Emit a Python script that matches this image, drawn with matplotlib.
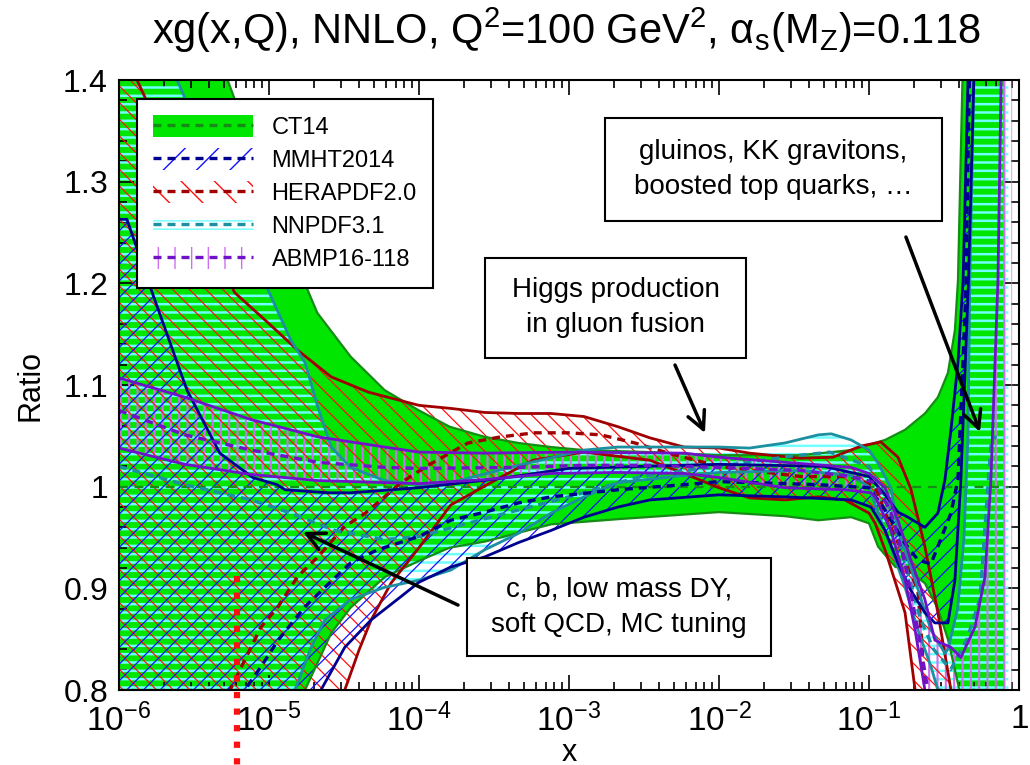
import numpy as np
import matplotlib.pyplot as plt
from matplotlib.patches import Patch, Rectangle
from matplotlib.lines import Line2D
from matplotlib.ticker import MultipleLocator, LogLocator, NullFormatter

plt.rcParams['font.family'] = 'Liberation Sans'
plt.rcParams['mathtext.fontset'] = 'custom'
plt.rcParams['mathtext.rm'] = 'Liberation Sans'
plt.rcParams['mathtext.it'] = 'Liberation Sans:italic'
plt.rcParams['hatch.linewidth'] = 1.0

# ---------------- data (ratio to CT14 central) ----------------
# CT14
ct_up_x = [1e-6, 2.5e-6, 5.3e-6, 1.0e-5, 1.7e-5, 2.1e-5, 3.5e-5, 5.9e-5, 1.0e-4, 1.6e-4,
           2.75e-4, 4.6e-4, 7.6e-4, 1.26e-3, 3.5e-3, 1.0e-2, 3.5e-2, 7.6e-2, 0.128, 0.174,
           0.236, 0.288, 0.336, 0.374, 0.392, 0.42, 0.45, 0.81]
ct_up_r = [1.75, 1.55, 1.40, 1.29, 1.203, 1.171, 1.128, 1.095, 1.075, 1.059,
           1.049, 1.043, 1.039, 1.036, 1.034, 1.031, 1.031, 1.036, 1.046, 1.056,
           1.072, 1.088, 1.112, 1.154, 1.203, 1.40, 1.60, 1.60]
ct_lo_x = [1e-6, 1.0e-5, 1.74e-5, 2.6e-5, 3.5e-5, 5.9e-5, 1.0e-4, 1.6e-4, 2.75e-4, 7.6e-4,
           2.1e-3, 1.0e-2, 2.75e-2, 4.6e-2, 7.6e-2, 0.1, 0.115, 0.15, 0.174, 0.236,
           0.288, 0.336, 0.374, 0.40, 0.45, 0.81]
ct_lo_r = [0.55, 0.70, 0.80, 0.856, 0.881, 0.911, 0.927, 0.940, 0.946, 0.963,
           0.968, 0.975, 0.971, 0.967, 0.970, 0.964, 0.941, 0.921, 0.92, 0.905,
           0.88, 0.85, 0.82, 0.80, 0.70, 0.70]
ct_c_x = [1e-6, 0.85]
ct_c_r = [1.0, 1.0]

# HERAPDF2.0
he_up_x = [1e-6, 1.32e-6, 5.9e-6, 9.9e-6, 1.56e-5, 2.6e-5, 4.6e-5, 1.0e-4, 1.63e-4, 2.75e-4,
           4.6e-4, 7.6e-4, 1.26e-3, 2.12e-3, 3.47e-3, 5.85e-3, 1.0e-2, 1.6e-2, 3.5e-2, 5.75e-2,
           8.85e-2, 0.12, 0.156, 0.19, 0.236, 0.288, 0.352, 0.40]
he_up_r = [1.60, 1.40, 1.191, 1.161, 1.134, 1.108, 1.093, 1.080, 1.077, 1.073,
           1.072, 1.072, 1.069, 1.059, 1.048, 1.039, 1.038, 1.033, 1.028, 1.029,
           1.040, 1.044, 1.029, 0.998, 0.941, 0.876, 0.80, 0.70]
he_lo_x = [1e-6, 2.0e-5, 3.2e-5, 4.0e-5, 4.8e-5, 6.5e-5, 1.0e-4, 1.63e-4, 3.47e-4, 5.75e-4,
           1.26e-3, 3.47e-3, 5.85e-3, 1.0e-2, 1.6e-2, 2.75e-2, 4.6e-2, 6.9e-2, 0.1, 0.11,
           0.13, 0.174, 0.203, 0.23]
he_lo_r = [0.30, 0.60, 0.80, 0.84, 0.869, 0.905, 0.94, 0.982, 1.009, 1.026,
           1.034, 1.026, 1.013, 0.999, 0.989, 0.987, 0.990, 0.987, 0.974, 0.964,
           0.935, 0.876, 0.80, 0.70]
he_c_x = [1e-6, 5.5e-6, 8.85e-6, 1.15e-5, 1.56e-5, 2.12e-5, 3.2e-5, 4.4e-5, 7.6e-5, 1.15e-4,
          2.12e-4, 3.5e-4, 5.9e-4, 9.9e-4, 1.63e-3, 2.75e-3, 4.6e-3, 1.0e-2, 3.5e-2, 7.6e-2,
          0.11, 0.14, 0.174, 0.19, 0.212, 0.222, 0.236, 0.26]
he_c_r = [0.60, 0.80, 0.862, 0.882, 0.912, 0.931, 0.961, 0.974, 1.004, 1.021,
          1.043, 1.049, 1.053, 1.053, 1.051, 1.043, 1.033, 1.020, 1.010, 1.010,
          1.0, 0.96, 0.93, 0.915, 0.898, 0.859, 0.80, 0.70]

# MMHT2014
mm_up_x = [1e-6, 1.13e-6, 1.61e-6, 2.84e-6, 4.7e-6, 7.8e-6, 1.13e-5, 1.28e-5, 2.5e-5, 3.5e-5,
           1.0e-4, 3.47e-4, 1.0e-3, 1.0e-2, 5.0e-2, 0.1, 0.128, 0.156, 0.182, 0.236,
           0.288, 0.321, 0.352, 0.392, 0.424, 0.457, 0.52]
mm_up_r = [1.263, 1.263, 1.197, 1.095, 1.033, 1.009, 1.002, 0.997, 0.994, 0.994,
           0.999, 1.008, 1.018, 1.022, 1.020, 1.010, 0.992, 0.975, 0.970, 0.960,
           0.974, 1.007, 1.056, 1.122, 1.203, 1.40, 1.70]
mm_lo_x = [1e-6, 1.5e-5, 2.22e-5, 3.2e-5, 4.8e-5, 7.6e-5, 1.0e-4, 1.63e-4, 2.75e-4, 4.6e-4,
           7.6e-4, 1.26e-3, 2.12e-3, 3.47e-3, 1.0e-2, 2.75e-2, 7.6e-2, 0.103, 0.128, 0.156,
           0.19, 0.236, 0.275, 0.336, 0.374, 0.41, 0.46, 0.50, 0.52]
mm_lo_r = [0.40, 0.70, 0.80, 0.842, 0.869, 0.892, 0.906, 0.921, 0.931, 0.945,
           0.957, 0.970, 0.980, 0.987, 0.992, 0.990, 0.987, 0.980, 0.957, 0.925,
           0.898, 0.876, 0.866, 0.866, 0.908, 1.007, 1.20, 1.40, 1.70]
mm_c_x = [1e-6, 5.9e-6, 6.9e-6, 8.85e-6, 1.15e-5, 1.74e-5, 2.36e-5, 3.5e-5, 5.3e-5, 1.0e-4,
          1.63e-4, 2.75e-4, 4.6e-4, 7.6e-4, 2.12e-3, 5.85e-3, 1.0e-2, 4.6e-2, 0.1, 0.128,
          0.174, 0.212, 0.259, 0.352, 0.392, 0.437, 0.443, 0.48]
mm_c_r = [0.50, 0.75, 0.80, 0.823, 0.849, 0.882, 0.901, 0.925, 0.938, 0.951,
          0.967, 0.975, 0.984, 0.990, 0.997, 1.002, 1.005, 1.002, 0.999, 0.977,
          0.944, 0.928, 0.924, 0.974, 1.007, 1.171, 1.203, 1.50]

# NNPDF3.1
nn_up_x = [1e-6, 2.0e-6, 2.44e-6, 4.8e-6, 9.9e-6, 1.4e-5, 1.74e-5, 2.12e-5, 2.6e-5, 3.5e-5,
           5.9e-5, 1.0e-4, 1.63e-4, 4.6e-4, 1.26e-3, 2.12e-3, 1.0e-2, 1.6e-2, 2.75e-2, 4.6e-2,
           5.6e-2, 7.6e-2, 0.1, 0.115, 0.14, 0.156, 0.203, 0.259, 0.321, 0.336, 0.39, 0.43,
           0.457, 0.47, 0.50, 0.55, 0.85]
nn_up_r = [1.80, 1.50, 1.40, 1.30, 1.193, 1.144, 1.122, 1.078, 1.039, 1.019,
           1.006, 1.002, 1.004, 1.021, 1.036, 1.039, 1.039, 1.038, 1.043, 1.051,
           1.052, 1.046, 1.036, 1.023, 0.999, 0.957, 0.908, 0.859, 0.836, 0.84, 0.88, 0.95,
           1.05, 1.20, 1.40, 1.70, 1.70]
nn_lo_x = [1e-6, 1.49e-5, 1.91e-5, 2.36e-5, 3.5e-5, 5.9e-5, 1.0e-4, 1.63e-4, 2.75e-4, 4.6e-4,
           7.6e-4, 1.26e-3, 2.12e-3, 5.85e-3, 1.0e-2, 3.5e-2, 7.6e-2, 0.1, 0.115, 0.14,
           0.174, 0.212, 0.259, 0.288, 0.33, 0.85]
nn_lo_r = [0.40, 0.80, 0.842, 0.869, 0.889, 0.901, 0.908, 0.918, 0.938, 0.954,
           0.974, 0.990, 1.004, 1.011, 1.014, 1.016, 1.011, 1.000, 0.974, 0.941,
           0.901, 0.859, 0.823, 0.80, 0.70, 0.70]
nn_c_x = [1e-6, 2.75e-6, 7.6e-6, 1.4e-5, 2.75e-5, 5.9e-5, 1.0e-4, 3.0e-4, 1.0e-3, 3.0e-3,
          1.0e-2, 3.0e-2, 5.5e-2, 0.1, 0.13, 0.17, 0.22, 0.27, 0.35, 0.45, 0.55, 0.62, 0.65, 0.70]
nn_c_r = [1.020, 1.002, 0.987, 0.974, 0.957, 0.948, 0.951, 0.970, 0.990, 1.010,
          1.020, 1.030, 1.034, 1.020, 0.990, 0.930, 0.870, 0.840, 0.820, 0.850, 0.890, 1.0, 1.04, 1.05]

# ABMP16-118
ab_up_x = [1e-6, 2.75e-6, 7.6e-6, 2.12e-5, 5.9e-5, 1.0e-4, 2.75e-4, 1.0e-3, 5.85e-3, 1.0e-2,
           2.75e-2, 7.6e-2, 0.1, 0.128, 0.156, 0.19, 0.236, 0.275, 0.352, 0.41,
           0.509, 0.593, 0.65, 0.724, 0.76, 0.80, 0.90]
ab_up_r = [1.107, 1.088, 1.066, 1.049, 1.039, 1.034, 1.033, 1.034, 1.033, 1.029,
           1.024, 1.019, 1.013, 0.999, 0.967, 0.928, 0.889, 0.849, 0.842, 0.832,
           0.862, 0.911, 1.007, 1.203, 1.40, 1.60, 1.60]
ab_lo_x = [1e-6, 2.75e-6, 7.6e-6, 2.12e-5, 1.0e-4, 2.75e-4, 7.6e-4, 2.12e-3, 5.85e-3, 1.0e-2,
           2.75e-2, 6.9e-2, 0.103, 0.11, 0.14, 0.174, 0.203, 0.236, 0.27, 0.90]
ab_lo_r = [1.038, 1.022, 1.012, 1.006, 1.003, 1.007, 1.013, 1.014, 1.013, 1.009,
           0.999, 0.997, 0.994, 0.990, 0.957, 0.908, 0.859, 0.80, 0.70, 0.70]
ab_c_x = [1e-6, 2.75e-6, 7.6e-6, 2.12e-5, 5.9e-5, 1.0e-4, 4.6e-4, 1.26e-3, 3.47e-3, 1.0e-2,
          3.5e-2, 7.6e-2, 0.11, 0.14, 0.174, 0.212, 0.247, 0.30]
ab_c_r = [1.075, 1.051, 1.036, 1.024, 1.019, 1.018, 1.019, 1.021, 1.021, 1.019,
          1.016, 1.010, 1.004, 0.975, 0.925, 0.859, 0.80, 0.70]

# red dotted marker line
mark_x = [6.1e-6, 6.1e-6]
mark_r = [0.912, 0.726]

xtick_vals = [1e-6, 1e-5, 1e-4, 1e-3, 1e-2, 1e-1, 1]
xtick_labels = ['$10^{-6}$', '$10^{-5}$', '$10^{-4}$', '$10^{-3}$', '$10^{-2}$', '$10^{-1}$',
                r'$\mathregular{1}$']
ytick_vals = [0.8, 0.9, 1.0, 1.1, 1.2, 1.3, 1.4]
ytick_labels = [r'$\mathregular{%s}$' % s for s in ['0.8', '0.9', '1', '1.1', '1.2', '1.3', '1.4']]

# colours
CT_FILL, CT_LINE = '#00E600', '#168C16'
MM_LINE, MM_HATCH = '#000090', '#1010FF'
HE_LINE, HE_HATCH = '#A00000', '#FF1010'
NN_LINE, NN_HATCH = '#1C8FA0', '#70FFFF'
AB_LINE, AB_HATCH = '#7012C8', '#D070F0'
DASH = (0, (2.4, 1.8))

fig = plt.figure(figsize=(10.3, 7.65), dpi=100)
ax = fig.add_axes([0.1155, 0.098, 0.8738, 0.7974])
ax.set_xscale('log')


def band(xu, ru, xl, rl, **kw):
    xs = np.r_[xu, np.asarray(xl)[::-1]]
    ys = np.r_[ru, np.asarray(rl)[::-1]]
    polys = ax.fill(xs, ys, **kw)
    return polys[0]


def hatched(xu, ru, xl, rl, color, hatch, hlw):
    p = band(xu, ru, xl, rl, facecolor='none', edgecolor=color, lw=0, hatch=hatch, zorder=2)
    if hasattr(p, 'set_hatch_linewidth'):
        p.set_hatch_linewidth(hlw)
    return p


# CT14 green band
band(ct_up_x, ct_up_r, ct_lo_x, ct_lo_r, facecolor=CT_FILL, edgecolor='none', lw=0, zorder=1)
# hatched bands
hatched(nn_up_x, nn_up_r, nn_lo_x, nn_lo_r, NN_HATCH, '--', 1.8)
hatched(ab_up_x, ab_up_r, ab_lo_x, ab_lo_r, AB_HATCH, '||', 1.5)
hatched(he_up_x, he_up_r, he_lo_x, he_lo_r, HE_HATCH, '\\\\', 0.9)
hatched(mm_up_x, mm_up_r, mm_lo_x, mm_lo_r, MM_HATCH, '//', 0.9)

# band edges and central values
ax.plot(ct_up_x, ct_up_r, color=CT_LINE, lw=1.6, zorder=3)
ax.plot(ct_lo_x, ct_lo_r, color=CT_LINE, lw=1.6, zorder=3)
ax.plot(ct_c_x, ct_c_r, color=CT_LINE, lw=1.6, ls=(0, (4, 3)), zorder=3)

for xu, ru, xl, rl, xc, rc, col in [
        (he_up_x, he_up_r, he_lo_x, he_lo_r, he_c_x, he_c_r, HE_LINE),
        (nn_up_x, nn_up_r, nn_lo_x, nn_lo_r, nn_c_x, nn_c_r, NN_LINE),
        (mm_up_x, mm_up_r, mm_lo_x, mm_lo_r, mm_c_x, mm_c_r, MM_LINE),
        (ab_up_x, ab_up_r, ab_lo_x, ab_lo_r, ab_c_x, ab_c_r, AB_LINE)]:
    ax.plot(xu, ru, color=col, lw=2.0, zorder=4)
    ax.plot(xl, rl, color=col, lw=2.0, zorder=4)
    ax.plot(xc, rc, color=col, lw=2.4, ls=DASH, zorder=4)

ax.plot(mark_x, mark_r, color='#FF1010', lw=4.5, ls=':', clip_on=False, zorder=8)

# axes
ax.set_xlim(1e-6, 1)
ax.set_ylim(0.8, 1.4)
ax.set_xticks(xtick_vals, xtick_labels)
ax.set_yticks(ytick_vals, ytick_labels)
ax.xaxis.set_minor_locator(LogLocator(base=10, subs=np.arange(2, 10), numticks=20))
ax.xaxis.set_minor_formatter(NullFormatter())
ax.yaxis.set_minor_locator(MultipleLocator(0.02))
ax.tick_params(which='both', direction='in', top=True, right=True, width=1.2)
ax.tick_params(which='major', length=11)
ax.tick_params(which='minor', length=5.5)
ax.tick_params(axis='x', pad=10, labelsize=24)
ax.tick_params(axis='y', pad=8, labelsize=23)
for s in ax.spines.values():
    s.set_linewidth(1.5)
    s.set_zorder(6)

fig.text(0.5524, 0.005, r'$\mathregular{x}$', ha='center', va='baseline', fontsize=22)
ax.set_ylabel('Ratio', fontsize=22, labelpad=12)
fig.text(0.55, 0.96, r'xg(x,Q), NNLO, Q$^{2}$=100 GeV$^{2}$, α$_{\mathregular{s}}$(M$_{\mathregular{Z}}$)=0.118',
         ha='center', va='center', fontsize=30)

# legend
hand = [
    (Patch(facecolor=CT_FILL, edgecolor='none'), Line2D([], [], color=CT_LINE, lw=2.4, ls=DASH)),
    (Patch(facecolor='white', edgecolor=MM_HATCH, hatch='/', lw=0), Line2D([], [], color=MM_LINE, lw=2.4, ls=DASH)),
    (Patch(facecolor='white', edgecolor=HE_HATCH, hatch='\\', lw=0), Line2D([], [], color=HE_LINE, lw=2.4, ls=DASH)),
    (Patch(facecolor='white', edgecolor=NN_HATCH, hatch='--', lw=0), Line2D([], [], color=NN_LINE, lw=2.4, ls=DASH)),
    (Patch(facecolor='white', edgecolor=AB_HATCH, hatch='|', lw=0), Line2D([], [], color=AB_LINE, lw=2.4, ls=DASH)),
]
labels = ['CT14', 'MMHT2014', 'HERAPDF2.0', 'NNPDF3.1', 'ABMP16-118']
leg = ax.legend(hand, labels, loc='upper left', bbox_to_anchor=(0.02, 0.969), fontsize=17,
                handlelength=4.2, handleheight=1.05, handletextpad=0.8, labelspacing=0.38,
                borderpad=0.7, borderaxespad=0, fancybox=False, framealpha=1, edgecolor='black')
leg.get_frame().set_linewidth(1.5)
leg.set_zorder(10)

# annotation boxes
boxes = [
    ((0.540, 0.769, 0.374, 0.169), 'gluinos, KK gravitons,\nboosted top quarks, …', (0.8744, 0.7426), (0.9567, 0.4230)),
    ((0.4067, 0.5443, 0.290, 0.164), 'Higgs production\nin gluon fusion', (0.6178, 0.5328), (0.6511, 0.4213)),
    ((0.3867, 0.0557, 0.3378, 0.1607), 'c, b, low mass DY,\nsoft QCD, MC tuning', (0.3767, 0.1393), (0.2044, 0.2590)),
]
for (bx, by, bw, bh), txt, tail, tip in boxes:
    ax.add_patch(Rectangle((bx, by), bw, bh, transform=ax.transAxes, facecolor='white',
                           edgecolor='black', lw=1.5, zorder=9))
    ax.text(bx + bw / 2, by + bh / 2, txt, transform=ax.transAxes, ha='center', va='center',
            fontsize=20, linespacing=1.45, zorder=10)
    ax.annotate('', xy=tip, xycoords='axes fraction', xytext=tail, textcoords='axes fraction',
                arrowprops=dict(arrowstyle='->', lw=2.5, color='black', mutation_scale=32,
                                shrinkA=0, shrinkB=0), zorder=10)

fig.savefig('out.png', dpi=100)
